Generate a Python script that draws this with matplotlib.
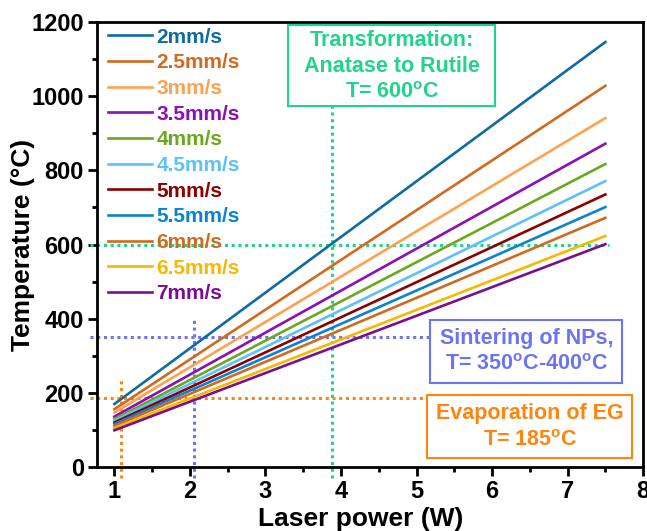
import matplotlib
matplotlib.use("Agg")
import matplotlib.pyplot as plt
from matplotlib.patches import Rectangle
from matplotlib.ticker import MultipleLocator

plt.rcParams['font.family'] = ['Liberation Sans', 'DejaVu Sans']
plt.rcParams['font.weight'] = 'bold'
plt.rcParams['mathtext.default'] = 'regular'

# scan speeds and the linear temperature rise with laser power
speeds = ['2mm/s', '2.5mm/s', '3mm/s', '3.5mm/s', '4mm/s', '4.5mm/s',
          '5mm/s', '5.5mm/s', '6mm/s', '6.5mm/s', '7mm/s']
power = [1.0, 7.5]
temp_start = [170, 156, 147, 136, 129, 125, 120, 116, 111, 105, 99]
temp_end = [1146, 1028, 941, 872, 817, 771, 735, 701, 672, 623, 601]
colors = ['#0E6BA3', '#D2691E', '#FFA24F', '#8A0FB5', '#6CA81E', '#5CC1F8',
          '#8C0000', '#0B82D2', '#D2691E', '#F6B800', '#7A0E92']

# reference temperatures
t_evap, p_evap = 185, 1.09
t_sinter, p_sinter = 350, 2.05
t_trans, p_trans = 600, 3.88

green = '#22D38D'
blue = '#6C74F0'
orange = '#FF8410'

fig = plt.figure(figsize=(6.47, 5.31), dpi=100)
ax = fig.add_axes([0.150, 0.1205, 0.844, 0.838])

for name, t0, t1, c in zip(speeds, temp_start, temp_end, colors):
    ax.plot(power, [t0, t1], color=c, lw=1.9, label=name, zorder=3)

dot = (0, (1, 1.2))
ax.plot([0.68, 5.3], [t_evap, t_evap], color=orange, lw=2.2, ls=dot, clip_on=False, zorder=2)
ax.plot([p_evap, p_evap], [-30, 240], color=orange, lw=2.2, ls=dot, clip_on=False, zorder=2)
ax.plot([0.68, 5.4], [t_sinter, t_sinter], color=blue, lw=2.2, ls=dot, clip_on=False, zorder=2)
ax.plot([p_sinter, p_sinter], [-30, 400], color=blue, lw=2.2, ls=dot, clip_on=False, zorder=2)
ax.plot([0.68, 7.55], [t_trans, t_trans], color=green, lw=2.2, ls=dot, clip_on=False, zorder=2)
ax.plot([p_trans, p_trans], [-30, 975], color=green, lw=2.2, ls=dot, clip_on=False, zorder=2)

# annotation boxes, placed in axes fractions
boxes = [
    ((0.350, 0.811), 0.379, 0.182, green, (0.540, 0.900),
     'Transformation:\nAnatase to Rutile\nT= 600$^{o}$C'),
    ((0.610, 0.189), 0.352, 0.141, blue, (0.786, 0.259),
     'Sintering of NPs,\nT= 350$^{o}$C-400$^{o}$C'),
    ((0.604, 0.020), 0.376, 0.142, orange, (0.793, 0.090),
     'Evaporation of EG\nT= 185$^{o}$C'),
]
for (x0, y0), w, h, c, (tx, ty), label in boxes:
    ax.add_patch(Rectangle((x0, y0), w, h, transform=ax.transAxes,
                           fc='white', ec=c, lw=1.5, zorder=4))
    ax.text(tx, ty, label, transform=ax.transAxes, color=c, ha='center', va='center',
            fontsize=15.5, fontweight='bold', linespacing=1.32, zorder=5)

ax.set_xlim(0.77, 8)
ax.set_ylim(0, 1200)
ax.xaxis.set_major_locator(MultipleLocator(1))
ax.xaxis.set_minor_locator(MultipleLocator(0.5))
ax.yaxis.set_major_locator(MultipleLocator(200))
ax.yaxis.set_minor_locator(MultipleLocator(100))
ax.tick_params(which='major', direction='out', length=6.5, width=2, labelsize=17, pad=3)
ax.tick_params(which='minor', direction='out', length=3.6, width=2)
for sp in ax.spines.values():
    sp.set_linewidth(2)

ax.set_xlabel('Laser power (W)', fontsize=19, fontweight='bold')
ax.set_ylabel('Temperature (°C)', fontsize=19, fontweight='bold')
ax.xaxis.set_label_coords(0.483, -0.089)
ax.yaxis.set_label_coords(-0.1136, 0.5)

leg = ax.legend(loc='upper left', bbox_to_anchor=(0.004, 1.006), frameon=False,
                fontsize=15, handlelength=2.15, handletextpad=0.2,
                labelspacing=0.32, borderaxespad=0.2, borderpad=0.2)
for txt, c in zip(leg.get_texts(), colors):
    txt.set_color(c)

fig.savefig('out.png', dpi=100)
